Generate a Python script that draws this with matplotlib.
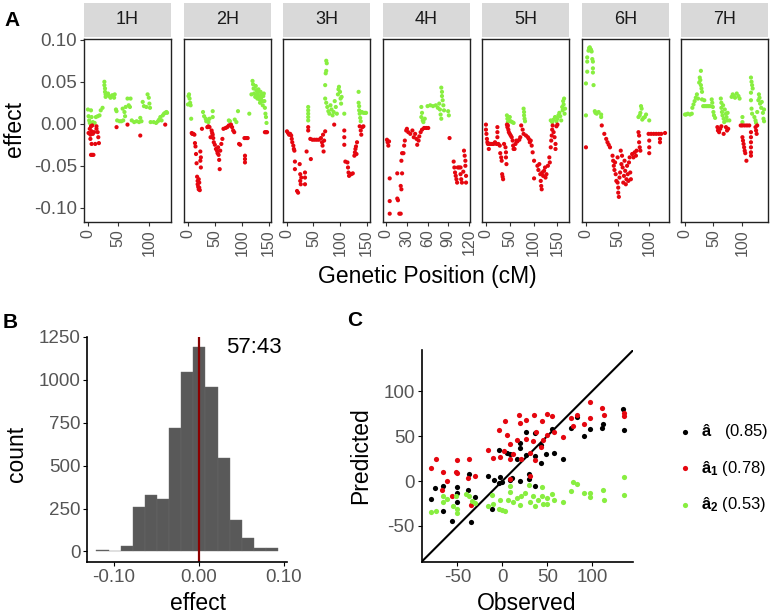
import matplotlib
matplotlib.use('Agg')
import matplotlib.pyplot as plt
import numpy as np

plt.rcParams['font.family'] = ['Liberation Sans', 'DejaVu Sans']
plt.rcParams['mathtext.fontset'] = 'custom'
plt.rcParams['mathtext.rm'] = 'Liberation Sans'
plt.rcParams['mathtext.bf'] = 'Liberation Sans:bold'

W, H = 771, 614
RED = '#E5060F'
GREEN = '#88EE40'
DARKRED = '#8B0000'
TICK_GREY = '#555555'

# ---- panel A: marker effects along each chromosome (position cM, effect)
chromosomes = ['1H', '2H', '3H', '4H', '5H', '6H', '7H']
chr_ticks = [[0, 50, 100], [0, 50, 100, 150], [0, 50, 100, 150],
             [0, 30, 60, 90, 120], [0, 50, 100, 150], [0, 50, 100], [0, 50, 100]]

pts_1H = [(0, 0.017), (1, 0.009), (2, 0.004), (3, 0.001), (5, 0.016), (6, 0.008), (8, 0.002),
          (11, 0.001), (13, 0.008), (16, 0.009), (19, 0.010), (21, 0.016), (24, 0.019),
          (27, 0.050), (27, 0.046), (28, 0.042), (28, 0.038), (29, 0.035), (29, 0.032), (31, 0.034),
          (33, 0.036), (35, 0.033), (37, 0.031), (40, 0.034), (43, 0.031), (44, 0.035),
          (46, 0.017), (47, 0.015), (48, 0.004), (52, 0.003), (55, 0.003), (58, 0.004), (57, 0.018),
          (60, 0.014), (61, 0.009), (62, 0.020), (65, 0.030), (67, 0.022), (69, 0.020), (70, 0.030),
          (72, 0.004), (76, 0.002), (80, 0.003), (84, 0.002), (86, 0.007), (88, 0.003), (90, 0.026),
          (92, 0.021), (96, 0.020), (98, 0.035), (100, 0.031), (101, 0.024), (102, 0.019), (103, 0.002),
          (108, 0.002), (112, 0.001), (115, 0.003), (117, 0.005), (119, 0.008), (121, 0.004),
          (123, 0.010), (125, 0.012), (127, 0.013), (129, 0.014), (130, 0.013),
          (1, -0.011), (3, -0.006), (4, -0.013), (5, -0.003), (6, -0.009), (7, -0.002), (8, -0.012),
          (10, -0.010), (4, -0.018), (6, -0.024), (14, -0.006), (16, -0.010), (17, -0.016),
          (18, -0.023), (12, -0.024), (14, -0.003), (5, -0.037), (7, -0.037), (9, -0.037),
          (47, -0.004), (65, -0.001), (86, -0.014), (127, -0.001)]

pts_2H = [(0, 0.023), (1, 0.033), (2, 0.035), (3, 0.030), (4, 0.025), (5, 0.022), (6, 0.006),
          (28, 0.014), (30, 0.009), (33, 0.006), (34, 0.003), (36, 0.004), (38, 0.002), (40, 0.006),
          (46, 0.015), (46, 0.008), (76, 0.004), (78, 0.003), (87, 0.005), (90, 0.002), (93, 0.015),
          (114, 0.012), (118, 0.035), (120, 0.051), (121, 0.047), (122, 0.042), (123, 0.036),
          (125, 0.032), (126, 0.045), (127, 0.040), (128, 0.034), (129, 0.030), (130, 0.037),
          (131, 0.041), (132, 0.033), (133, 0.029), (134, 0.025), (135, 0.038), (136, 0.031),
          (137, 0.035), (138, 0.027), (139, 0.022), (140, 0.033), (141, 0.036), (142, 0.027),
          (143, 0.019), (144, 0.012), (145, 0.008), (146, 0.001),
          (7, -0.011), (8, -0.012), (10, -0.012), (12, -0.013), (13, -0.023), (14, -0.027),
          (15, -0.036), (16, -0.047), (17, -0.063), (18, -0.068), (18, -0.072), (19, -0.075),
          (20, -0.078), (21, -0.076), (22, -0.079), (21, -0.070), (20, -0.066), (23, -0.044),
          (24, -0.040), (23, -0.033), (24, -0.052), (26, -0.006), (36, -0.004), (38, -0.003),
          (40, -0.004), (42, -0.016), (44, -0.008), (45, -0.011), (46, -0.013), (47, -0.017),
          (48, -0.022), (50, -0.025), (52, -0.030), (54, -0.032), (55, -0.035), (56, -0.028),
          (57, -0.037), (58, -0.043), (59, -0.054), (60, -0.032), (62, -0.024), (64, -0.018),
          (66, -0.006), (70, -0.005), (73, -0.004), (76, -0.002), (79, -0.002), (82, -0.004),
          (84, -0.008), (86, -0.010), (80, -0.001), (95, -0.024), (97, -0.025), (105, -0.017),
          (108, -0.017), (111, -0.017), (106, -0.038), (106, -0.042), (106, -0.046),
          (143, -0.010), (145, -0.010), (147, -0.010)]

pts_3H = [(40, 0.020), (40, 0.016), (40, 0.012), (40, 0.008), (40, 0.004), (74, 0.075), (75, 0.072),
          (74, 0.063), (73, 0.060), (72, 0.046), (72, 0.030), (74, 0.025), (76, 0.020), (78, 0.015),
          (80, 0.012), (82, 0.022), (84, 0.017), (86, 0.010), (88, 0.014), (90, 0.027), (92, 0.020),
          (94, 0.012), (96, 0.035), (97, 0.041), (98, 0.044), (100, 0.038), (101, 0.030),
          (102, 0.024), (103, 0.032), (108, 0.012), (135, 0.038), (135, 0.025), (136, 0.021),
          (136, 0.016), (137, 0.012), (138, 0.007), (139, 0.003), (141, 0.014), (144, 0.013),
          (147, 0.013), (149, 0.013),
          (0, -0.009), (2, -0.011), (4, -0.013), (6, -0.012), (8, -0.014), (9, -0.018), (10, -0.022),
          (12, -0.026), (13, -0.030), (14, -0.032), (15, -0.045), (15, -0.054), (19, -0.080),
          (21, -0.082), (24, -0.048), (25, -0.060), (25, -0.068), (26, -0.072), (27, -0.064),
          (34, -0.058), (34, -0.064), (34, -0.072), (37, -0.033), (40, -0.004), (40, -0.008),
          (45, -0.042), (44, -0.018), (48, -0.019), (52, -0.019), (56, -0.019), (60, -0.019),
          (64, -0.017), (66, -0.022), (67, -0.026), (68, -0.013), (69, -0.033), (70, -0.020),
          (72, -0.009), (89, -0.001), (108, -0.008), (108, -0.016), (108, -0.025), (110, -0.045),
          (114, -0.046), (115, -0.052), (116, -0.058), (117, -0.062), (119, -0.060), (121, -0.060),
          (124, -0.059), (127, -0.038), (128, -0.034), (129, -0.030), (130, -0.027), (131, -0.036),
          (132, -0.022), (137, -0.003), (139, -0.008), (140, -0.013), (142, -0.004), (144, -0.003)]

pts_4H = [(51, 0.020), (52, 0.013), (51, 0.008), (53, 0.004), (54, 0.002), (56, 0.006), (60, 0.021),
          (64, 0.022), (68, 0.021), (72, 0.022), (75, 0.019), (77, 0.024), (78, 0.017), (79, 0.011),
          (80, 0.006), (80, 0.043), (81, 0.038), (81, 0.033), (82, 0.028), (83, 0.022), (84, 0.016),
          (90, 0.015), (91, 0.010),
          (1, -0.019), (2, -0.022), (3, -0.026), (4, -0.021), (5, -0.065), (5, -0.092), (5, -0.107),
          (16, -0.059), (16, -0.089), (17, -0.091), (19, -0.107), (21, -0.107), (21, -0.074),
          (22, -0.078), (23, -0.059), (22, -0.044), (23, -0.035), (25, -0.035), (26, -0.026),
          (27, -0.020), (29, -0.008), (30, -0.006), (32, -0.010), (35, -0.012), (38, -0.008),
          (40, -0.016), (42, -0.012), (44, -0.018), (45, -0.025), (47, -0.020), (48, -0.015),
          (50, -0.010), (52, -0.007), (55, -0.005), (58, -0.005), (61, -0.005), (92, -0.017),
          (98, -0.045), (99, -0.052), (100, -0.058), (101, -0.062), (102, -0.066), (103, -0.070),
          (104, -0.052), (106, -0.052), (108, -0.052), (108, -0.060), (109, -0.066), (110, -0.070),
          (112, -0.057), (113, -0.032), (114, -0.038), (115, -0.044), (115, -0.050), (116, -0.062),
          (116, -0.070)]

pts_5H = [(44, 0.010), (45, 0.006), (46, 0.002), (48, 0.004), (50, 0.008), (52, 0.003), (55, 0.002),
          (58, 0.001), (79, 0.018), (80, 0.014), (80, 0.010), (81, 0.006), (82, 0.003), (136, 0.004),
          (139, 0.002), (142, 0.005), (145, 0.008), (148, 0.003), (150, 0.006), (152, 0.010),
          (154, 0.013), (156, 0.009), (158, 0.004), (160, 0.020), (161, 0.016), (162, 0.027),
          (163, 0.023), (164, 0.030), (165, 0.012), (166, 0.018),
          (0, -0.001), (0, -0.007), (1, -0.012), (2, -0.018), (3, -0.022), (4, -0.024), (6, -0.030),
          (8, -0.024), (10, -0.024), (13, -0.024), (16, -0.024), (19, -0.022), (22, -0.024),
          (24, -0.004), (24, -0.010), (24, -0.016), (26, -0.024), (29, -0.026), (30, -0.035),
          (32, -0.040), (33, -0.044), (34, -0.060), (35, -0.063), (36, -0.066), (38, -0.024),
          (41, -0.028), (42, -0.034), (42, -0.040), (43, -0.048), (44, -0.001), (45, -0.004),
          (46, -0.002), (47, -0.007), (48, -0.010), (50, -0.012), (52, -0.014), (54, -0.016),
          (56, -0.020), (57, -0.026), (58, -0.030), (60, -0.030), (62, -0.024), (64, -0.020),
          (66, -0.021), (70, -0.019), (72, -0.016), (74, -0.002), (77, -0.007), (79, -0.012),
          (84, -0.014), (88, -0.016), (90, -0.018), (92, -0.022), (94, -0.020), (96, -0.026),
          (98, -0.034), (101, -0.044), (101, -0.065), (108, -0.050), (110, -0.055), (112, -0.048),
          (114, -0.060), (115, -0.068), (116, -0.074), (117, -0.078), (118, -0.058), (120, -0.062),
          (122, -0.056), (124, -0.052), (125, -0.064), (127, -0.060), (130, -0.050), (133, -0.040),
          (134, -0.046), (136, -0.028), (137, -0.020), (138, -0.014), (139, -0.007), (140, -0.002),
          (142, -0.010), (144, -0.016), (146, -0.024), (146, -0.030), (148, -0.003), (150, -0.001)]

pts_6H = [(0, 0.048), (0, 0.010), (2, 0.062), (2, 0.074), (2, 0.079), (4, 0.087), (5, 0.090),
          (6, 0.091), (7, 0.089), (8, 0.088), (9, 0.086), (10, 0.077), (11, 0.074), (11, 0.066),
          (11, 0.061), (12, 0.046), (14, 0.015), (15, 0.013), (17, 0.012), (20, 0.014), (24, 0.011),
          (24, 0.008), (83, 0.008), (85, 0.010), (86, 0.013), (87, 0.021), (88, 0.018), (89, 0.005),
          (91, 0.007), (93, 0.008), (95, 0.011), (100, 0.004),
          (0, -0.028), (25, -0.002), (29, -0.012), (32, -0.018), (34, -0.022), (36, -0.025),
          (38, -0.028), (42, -0.038), (43, -0.044), (44, -0.050), (45, -0.055), (46, -0.046),
          (47, -0.060), (48, -0.068), (50, -0.040), (50, -0.070), (51, -0.076), (51, -0.082),
          (52, -0.087), (53, -0.064), (54, -0.058), (55, -0.032), (56, -0.048), (57, -0.038),
          (58, -0.052), (59, -0.070), (60, -0.062), (61, -0.044), (62, -0.056), (63, -0.072),
          (64, -0.066), (65, -0.050), (66, -0.060), (67, -0.068), (68, -0.046), (69, -0.040),
          (70, -0.058), (71, -0.066), (73, -0.036), (75, -0.040), (77, -0.034), (79, -0.038),
          (80, -0.032), (83, -0.010), (84, -0.014), (84, -0.022), (85, -0.028), (86, -0.032),
          (99, -0.012), (100, -0.020), (100, -0.028), (100, -0.035), (103, -0.012), (107, -0.012),
          (111, -0.012), (115, -0.012), (117, -0.018), (117, -0.022), (119, -0.012), (125, -0.011)]

pts_7H = [(0, 0.011), (2, 0.011), (5, 0.012), (9, 0.011), (12, 0.012), (13, 0.019), (15, 0.023),
          (17, 0.027), (19, 0.031), (21, 0.035), (23, 0.030), (25, 0.049), (26, 0.055), (27, 0.052),
          (28, 0.063), (28, 0.046), (29, 0.042), (30, 0.038), (30, 0.029), (34, 0.028), (32, 0.021),
          (35, 0.021), (38, 0.021), (41, 0.021), (44, 0.021), (47, 0.029), (48, 0.025), (49, 0.020),
          (50, 0.014), (51, 0.010), (53, 0.007), (63, 0.030), (64, 0.025), (64, 0.019), (65, 0.014),
          (66, 0.010), (67, 0.022), (68, 0.006), (69, 0.002), (70, 0.017), (72, 0.012), (73, 0.008),
          (74, 0.004), (75, 0.013), (78, 0.004), (82, 0.032), (84, 0.035), (86, 0.033), (88, 0.031),
          (91, 0.036), (94, 0.033), (96, 0.030), (101, 0.008), (101, 0.002), (116, 0.055),
          (117, 0.050), (118, 0.046), (119, 0.042), (116, 0.037), (116, 0.028), (117, 0.018),
          (118, 0.012), (122, 0.008), (124, 0.004), (125, 0.001), (127, 0.014), (129, 0.028),
          (130, 0.035), (131, 0.031), (132, 0.024), (134, 0.019), (135, 0.026), (137, 0.013),
          (138, 0.006), (139, 0.003), (139, 0.017),
          (57, -0.004), (58, -0.008), (60, -0.010), (62, -0.006), (64, -0.003), (68, -0.012),
          (72, -0.004), (74, -0.008), (76, -0.006), (98, -0.002), (101, -0.002), (105, -0.002),
          (109, -0.002), (113, -0.002), (101, -0.016), (102, -0.020), (103, -0.024), (104, -0.028),
          (105, -0.032), (106, -0.035), (108, -0.044), (116, -0.010), (116, -0.016), (116, -0.022),
          (116, -0.028), (116, -0.034), (116, -0.038), (124, -0.004), (125, -0.008), (126, -0.012),
          (127, -0.002)]

chr_points = [pts_1H, pts_2H, pts_3H, pts_4H, pts_5H, pts_6H, pts_7H]

# ---- panel B: histogram of effects
hist_centers = [-0.1137, -0.0994, -0.0852, -0.0709, -0.0566, -0.0424, -0.0281, -0.0138,
                0.0004, 0.0147, 0.0290, 0.0432, 0.0575, 0.0718, 0.0861]
hist_counts = [8, 2, 33, 258, 329, 306, 721, 1047, 1190, 959, 543, 184, 81, 19, 23]
bin_width = 0.01427
split_label = '57:43'

# ---- panel C: observed vs predicted
black_obs = [-79, -75, -66, -66, -56, -50, -50, -50, -38, -37, -35, -30, -16, -11, -9, -4, -4, -3, 0,
             5, 8, 9, 11, 16, 20, 20, 20, 26, 26, 30, 30, 36, 36, 36, 43, 43, 49, 55, 58, 67, 76, 83,
             91, 98, 111, 112, 134, 135]
black_pred = [-20, -8, -6, -33, -44, -7, -13, -23, -10, 8, -45, -18, 6, -31, 1, 34, -2, 5, -1,
              31, 1, 30, 3, 25, 42, 37, 0, 55, 29, 8, 2, 53, 28, -5, 40, 20, 30, 58, 31, 25, 59, 71,
              50, 58, 59, 63, 80, 57]
red_obs = [-79, -74, -67, -66, -61, -56, -50, -51, -50, -38, -37, -35, -30, -16, -10, -4, -3, 2, 3,
           5, 8, 9, 9, 12, 16, 19, 20, 21, 26, 26, 31, 31, 34, 35, 36, 38, 43, 44, 45, 50, 50, 55,
           58, 67, 76, 79, 83, 91, 97, 98, 111, 113, 135, 135]
red_pred = [14, 25, -10, 10, 0, -17, 23, 10, 9, 3, 24, -27, 6, 34, 26, 57, 27, 33, 67,
            51, 41, 25, 2, 30, 46, 73, 65, 25, 68, 47, 31, 6, 44, 73, 23, 55, 38, 67, 46, 51, 75, 72,
            54, 49, 70, 61, 73, 63, 88, 70, 81, 73, 76, 72]
green_obs = [-79, -74, -66, -66, -61, -55, -51, -50, -50, -40, -37, -34, -30, -16, -11, -10, -4, -3,
             0, 3, 6, 8, 9, 12, 16, 20, 21, 25, 30, 31, 34, 36, 40, 44, 44, 45, 50, 50, 55, 58, 67,
             76, 79, 83, 91, 98, 98, 112, 113, 135, 135]
green_pred = [-34, -33, -17, -23, -20, -28, -17, -31, -36, -14, -17, -22, -24, -28, -16, -25, -31,
              -21, -32, -33, -21, -6, -12, -23, -19, -27, -17, -13, -4, -23, -17, -28, -21, -7, -17,
              -26, -19, -25, -14, -21, -23, -11, -1, -3, -13, -13, -18, -10, -21, 4, -16]
series_r = [0.85, 0.78, 0.53]


def box(x0, y0, x1, y1):
    # pixel rectangle (top-left origin) -> figure fraction
    return [x0 / W, 1 - y1 / H, (x1 - x0) / W, (y1 - y0) / H]


def expand(vals, frac=0.05):
    lo, hi = min(vals), max(vals)
    pad = (hi - lo) * frac
    return lo - pad, hi + pad


fig = plt.figure(figsize=(W / 100, H / 100), dpi=100)

# ---------------- panel A
all_eff = [p[1] for pts in chr_points for p in pts]
ylim_a = expand(all_eff)
facet_left = [84, 184, 283, 383, 482, 582, 681]
for i, (name, pts, ticks) in enumerate(zip(chromosomes, chr_points, chr_ticks)):
    x0 = facet_left[i]
    ax = fig.add_axes(box(x0, 39, x0 + 87, 222))
    pos = np.array([p[0] for p in pts])
    eff = np.array([p[1] for p in pts])
    cols = np.where(eff > 0, GREEN, RED)
    ax.scatter(pos, eff, s=9, c=cols, linewidths=0)
    ax.set_xlim(*expand(pos))
    ax.set_ylim(*ylim_a)
    ax.set_xticks(ticks)
    ax.set_xticklabels([str(t) for t in ticks], rotation=90, fontsize=11.5, color=TICK_GREY)
    if i == 0:
        ax.set_yticks([-0.10, -0.05, 0.0, 0.05, 0.10])
        ax.set_yticklabels(['-0.10', '-0.05', '0.00', '0.05', '0.10'], fontsize=13.5, color=TICK_GREY)
    else:
        ax.set_yticks([])
    ax.tick_params(length=3, width=0.8, color='#333333', pad=2)
    for s in ax.spines.values():
        s.set_linewidth(1.0)
        s.set_color('#222222')

    strip = fig.add_axes(box(x0, 3, x0 + 87, 36.5))
    strip.set_facecolor('#D9D9D9')
    strip.set_xticks([])
    strip.set_yticks([])
    for s in strip.spines.values():
        s.set_visible(False)
    strip.text(0.5, 0.5, name, ha='center', va='center', fontsize=13, color='#1A1A1A',
               transform=strip.transAxes)

fig.text(15 / W, 1 - 129 / H, 'effect', rotation=90, ha='center', va='center', fontsize=16.5)
fig.text(427 / W, 1 - 277 / H, 'Genetic Position (cM)', ha='center', va='center', fontsize=16.5)
fig.text(4 / W, 1 - 20 / H, 'A', ha='left', va='center', fontsize=15, fontweight='bold')

# ---------------- panel B
axb = fig.add_axes(box(87.3, 336.7, 287.3, 561.7))
axb.bar(hist_centers, hist_counts, width=bin_width, color='#595959',
        edgecolor='#6a6a6a', linewidth=0.3)
edges = [hist_centers[0] - bin_width / 2, hist_centers[-1] + bin_width / 2]
axb.set_xlim(*expand(edges))
axb.set_ylim(-0.05 * max(hist_counts), 1.05 * max(hist_counts))
axb.axvline(0, color=DARKRED, lw=1.6)
axb.text(0.032, 1190, split_label, ha='left', va='center', fontsize=16)
axb.set_xticks([-0.10, 0.0, 0.10])
axb.set_xticklabels(['-0.10', '0.00', '0.10'], fontsize=13.5, color=TICK_GREY)
axb.set_yticks([0, 250, 500, 750, 1000, 1250])
axb.set_yticklabels(['0', '250', '500', '750', '1000', '1250'], fontsize=13.5, color=TICK_GREY)
axb.spines['top'].set_visible(False)
axb.spines['right'].set_visible(False)
for s in ['left', 'bottom']:
    axb.spines[s].set_linewidth(1.2)
axb.tick_params(length=3, width=0.8, pad=2)
fig.text(198 / W, 1 - 603 / H, 'effect', ha='center', va='center', fontsize=16.5)
fig.text(17 / W, 1 - 454 / H, 'count', rotation=90, ha='center', va='center', fontsize=16.5)
fig.text(3 / W, 1 - 322 / H, 'B', ha='left', va='center', fontsize=15, fontweight='bold')

# ---------------- panel C
axc = fig.add_axes(box(421.7, 350, 633.3, 561.7))
lims = expand(black_obs + black_pred + red_obs + red_pred + green_obs + green_pred)
labels = [r'$\mathbf{â}$   (%.2f)' % series_r[0],
          r'$\mathbf{â_1}$ (%.2f)' % series_r[1],
          r'$\mathbf{â_2}$ (%.2f)' % series_r[2]]
axc.scatter(black_obs, black_pred, s=14, color='black', linewidths=0, label=labels[0], zorder=3)
axc.scatter(red_obs, red_pred, s=14, color=RED, linewidths=0, label=labels[1], zorder=3)
axc.scatter(green_obs, green_pred, s=14, color=GREEN, linewidths=0, label=labels[2], zorder=3)
axc.plot(lims, lims, color='black', lw=1.5, zorder=2)
axc.set_xlim(*lims)
axc.set_ylim(*lims)
axc.set_xticks([-50, 0, 50, 100])
axc.set_xticklabels(['-50', '0', '50', '100'], fontsize=13.5, color=TICK_GREY)
axc.set_yticks([-50, 0, 50, 100])
axc.set_yticklabels(['-50', '0', '50', '100'], fontsize=13.5, color=TICK_GREY)
axc.spines['top'].set_visible(False)
axc.spines['right'].set_visible(False)
for s in ['left', 'bottom']:
    axc.spines[s].set_linewidth(1.2)
axc.tick_params(length=3, width=0.8, pad=2)
axc.legend(loc='center left', bbox_to_anchor=(679 / W, 1 - 468 / H), bbox_transform=fig.transFigure,
           frameon=False, fontsize=12, handletextpad=0.6, labelspacing=1.05, handlelength=0.7,
           borderpad=0, borderaxespad=0)
fig.text(527 / W, 1 - 603 / H, 'Observed', ha='center', va='center', fontsize=16.5)
fig.text(361 / W, 1 - 456 / H, 'Predicted', rotation=90, ha='center', va='center', fontsize=16.5)
fig.text(347 / W, 1 - 321 / H, 'C', ha='left', va='center', fontsize=15, fontweight='bold')

fig.savefig('out.png', dpi=100)
